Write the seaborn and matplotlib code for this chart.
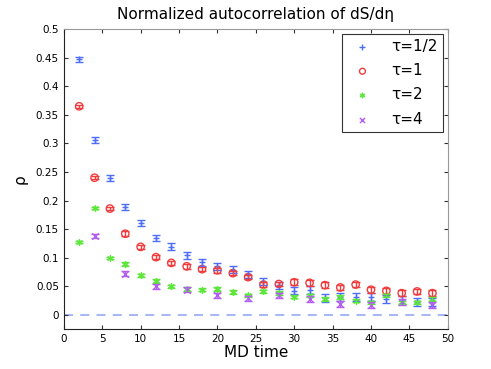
import matplotlib
matplotlib.use("agg")
import matplotlib.pyplot as plt
import numpy as np
import pandas as pd
import seaborn as sns

# values
t_half = [2, 4, 6, 8, 10, 12, 14, 16, 18, 20, 22, 24, 26, 28, 30, 32, 34, 36, 38, 40, 42, 44, 46, 48]
rho_half = [0.447, 0.306, 0.240, 0.189, 0.161, 0.134, 0.119, 0.104, 0.092, 0.085, 0.079, 0.071, 0.058, 0.052,
            0.042, 0.043, 0.030, 0.032, 0.031, 0.031, 0.028, 0.026, 0.022, 0.023]
err_half = [0.004, 0.005, 0.005, 0.005, 0.005, 0.005, 0.006, 0.006, 0.006, 0.006, 0.006, 0.006, 0.006, 0.006,
            0.006, 0.007, 0.007, 0.007, 0.007, 0.007, 0.007, 0.007, 0.007, 0.007]

t_one = [2, 4, 6, 8, 10, 12, 14, 16, 18, 20, 22, 24, 26, 28, 30, 32, 34, 36, 38, 40, 42, 44, 46, 48]
rho_one = [0.365, 0.240, 0.186, 0.142, 0.119, 0.101, 0.091, 0.085, 0.080, 0.078, 0.073, 0.066, 0.053, 0.054,
           0.057, 0.056, 0.052, 0.048, 0.053, 0.044, 0.042, 0.038, 0.041, 0.038]
err_one = [0.003, 0.003, 0.003, 0.004, 0.004, 0.004, 0.004, 0.004, 0.004, 0.004, 0.004, 0.004, 0.004, 0.004,
           0.005, 0.005, 0.005, 0.005, 0.005, 0.005, 0.005, 0.005, 0.005, 0.005]

t_two = [2, 4, 6, 8, 10, 12, 14, 16, 18, 20, 22, 24, 26, 28, 30, 32, 34, 36, 38, 40, 42, 44, 46, 48]
rho_two = [0.128, 0.187, 0.099, 0.089, 0.069, 0.059, 0.050, 0.045, 0.044, 0.045, 0.040, 0.034, 0.041, 0.038,
           0.032, 0.034, 0.028, 0.031, 0.025, 0.022, 0.034, 0.022, 0.022, 0.028]
err_two = [0.002, 0.002, 0.002, 0.003, 0.003, 0.003, 0.003, 0.003, 0.003, 0.003, 0.003, 0.003, 0.003, 0.003,
           0.003, 0.003, 0.003, 0.003, 0.003, 0.003, 0.003, 0.003, 0.003, 0.003]

t_four = [4, 8, 12, 16, 20, 24, 28, 32, 36, 40, 44, 48]
rho_four = [0.138, 0.072, 0.050, 0.044, 0.034, 0.029, 0.034, 0.028, 0.019, 0.017, 0.023, 0.017]
err_four = [0.003, 0.004, 0.004, 0.004, 0.004, 0.004, 0.005, 0.005, 0.005, 0.005, 0.005, 0.005]

labels = ["\u03c4=1/2", "\u03c4=1", "\u03c4=2", "\u03c4=4"]
colors = ["#4f6ef7", "#f03c3c", "#5fe63c", "#b45ef0"]
markers = ["+", "o", (6, 2, 0), "x"]

series = [(t_half, rho_half, err_half), (t_one, rho_one, err_one),
          (t_two, rho_two, err_two), (t_four, rho_four, err_four)]

frames = []
for lab, (t, r, e) in zip(labels, series):
    frames.append(pd.DataFrame({"MD time": t, "rho": r, "err": e, "tau": lab}))
df = pd.concat(frames, ignore_index=True)

sns.set_style("white")
plt.rcParams["font.family"] = ["DejaVu Sans"]
plt.rcParams["text.color"] = "black"
plt.rcParams["axes.labelcolor"] = "black"
plt.rcParams["xtick.color"] = "black"
plt.rcParams["ytick.color"] = "black"

fig = plt.figure(figsize=(4.91, 3.69), dpi=100)
ax = fig.add_axes([0.130, 0.108, 0.782, 0.813])

ax.axhline(0, color="#9fb0f5", ls=(0, (5, 4)), lw=1.3, zorder=0)

# error bars first, then the markers through seaborn
for lab, col in zip(labels, colors):
    sub = df[df["tau"] == lab]
    ax.errorbar(sub["MD time"], sub["rho"], yerr=sub["err"], fmt="none",
                ecolor=col, elinewidth=1.0, capsize=3.2, capthick=1.0)

sizes = [24, 28, 16, 22]
for lab, col, mk, sz in zip(labels, colors, markers, sizes):
    sub = df[df["tau"] == lab]
    if mk == "o":
        sns.scatterplot(data=sub, x="MD time", y="rho", ax=ax, marker="o", s=sz,
                        facecolor="none", edgecolor=col, linewidth=1.0, label=lab)
    else:
        sns.scatterplot(data=sub, x="MD time", y="rho", ax=ax, marker=mk, s=sz,
                        color=col, edgecolor=col, linewidth=1.0, label=lab)

ax.set_xlim(0, 50)
ax.set_ylim(-0.025, 0.5)
ax.set_xticks(np.arange(0, 51, 5))
ax.set_yticks(np.arange(0, 0.51, 0.05))
ax.set_yticklabels(["0", "0.05", "0.1", "0.15", "0.2", "0.25", "0.3", "0.35", "0.4", "0.45", "0.5"])
ax.tick_params(direction="in", length=3, labelsize=7.5, top=True, right=True,
               bottom=True, left=True, color="#333333")
for s in ["left", "bottom"]:
    ax.spines[s].set_color("#222222")
for s in ["top", "right"]:
    ax.spines[s].set_color("#999999")

ax.set_xlabel("MD time", fontsize=11, labelpad=1)
ax.set_ylabel("\u03c1", fontsize=11, labelpad=6)
ax.set_title("Normalized autocorrelation of dS/d\u03b7", fontsize=11, pad=7)

leg = ax.legend(loc="upper right", fontsize=11, frameon=True, fancybox=False,
                edgecolor="black", borderpad=0.35, labelspacing=0.6, handletextpad=0.9,
                markerscale=0.8, borderaxespad=0.3)
leg.get_frame().set_linewidth(0.8)

fig.savefig("out.png", dpi=100)
